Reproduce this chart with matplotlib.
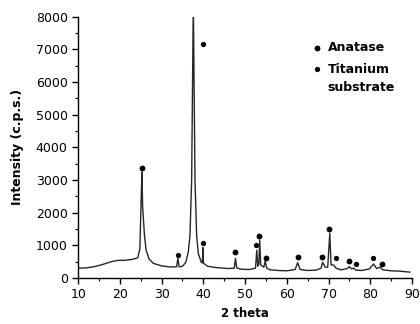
import matplotlib.pyplot as plt
from matplotlib.ticker import MultipleLocator

# XRD pattern (2 theta, intensity in c.p.s.)
two_theta = [10, 12, 14, 16, 18, 19.5, 21, 23, 24.3, 24.8, 25.1, 25.3, 25.45,
             25.6, 25.9, 26.3, 27, 28, 30, 32, 33.6, 33.9, 34.2, 35.0, 35.8,
             36.4, 36.8, 37.2, 37.6, 38.0, 38.4, 38.8, 39.5, 39.75, 39.9, 40.05,
             41, 43, 46, 47.4, 47.7, 48.0, 49, 51, 52.5, 52.8, 53.05, 53.3,
             53.5, 53.75, 54.5, 54.8, 55.2, 56, 58, 60, 62, 62.6, 63.2, 65, 67,
             68.2, 68.6, 69.2, 69.8, 70.3, 70.6, 71.2, 71.8, 73, 74.5, 75.0,
             75.5, 76.0, 76.6, 78, 79.8, 80.8, 81.5, 82.3, 83, 85, 87, 89.5]
intensity = [300, 310, 350, 420, 500, 540, 540, 570, 620, 900, 2400, 3250, 2200,
             1900, 1300, 850, 580, 450, 370, 340, 340, 600, 340, 360, 480,
             800, 1300, 3000, 8500, 3000, 1300, 750, 480, 460, 930, 450,
             360, 320, 290, 300, 600, 310, 270, 260, 300, 850, 360, 420,
             1160, 400, 330, 520, 300, 250, 230, 220, 260, 470, 260, 230, 240,
             300, 480, 330, 330, 1370, 400, 400, 300, 250, 290, 350,
             280, 300, 240, 230, 280, 430, 290, 330, 250, 220, 210, 180]

# peak markers (x, y)
anatase_x = [25.4, 47.7, 53.4, 55.0, 62.6, 68.5, 70.2, 74.8, 82.9]
anatase_y = [3370, 790, 1300, 620, 650, 650, 1500, 520, 420]
titanium_x = [33.9, 39.9, 39.9, 52.5, 71.8, 76.5, 80.7]
titanium_y = [700, 7180, 1070, 1000, 620, 440, 620]

fig = plt.figure(figsize=(4.2, 3.24), dpi=100)
ax = fig.add_axes([0.186, 0.142, 0.795, 0.806])

ax.plot(two_theta, intensity, color='#262626', lw=1.0)
ax.plot(anatase_x, anatase_y, 'o', color='black', ms=4.2, mew=0)
ax.plot(titanium_x, titanium_y, 'o', color='black', ms=3.8, mew=0)

ax.set_xlim(10, 90)
ax.set_ylim(0, 8000)
ax.xaxis.set_major_locator(MultipleLocator(10))
ax.xaxis.set_minor_locator(MultipleLocator(5))
ax.yaxis.set_major_locator(MultipleLocator(1000))
ax.yaxis.set_minor_locator(MultipleLocator(500))
ax.tick_params(which='major', direction='out', length=4, width=1, labelsize=9)
ax.tick_params(which='minor', direction='out', length=2, width=0.8)
for s in ['top', 'right']:
    ax.spines[s].set_visible(False)
for s in ['left', 'bottom']:
    ax.spines[s].set_linewidth(1)

ax.set_xlabel('2 theta', fontsize=8.5, fontweight='bold')
ax.set_ylabel('Intensity (c.p.s.)', fontsize=9, fontweight='bold')
ax.xaxis.set_label_coords(0.5, -0.112)
ax.yaxis.set_label_coords(-0.162, 0.5)

# legend drawn as text with dots
ax.plot([67.2], [7050], 'o', color='black', ms=4.2, mew=0)
ax.plot([67.2], [6400], 'o', color='black', ms=3.8, mew=0)
ax.text(69.8, 7050, 'Anatase', fontsize=9, fontweight='bold', va='center')
ax.text(69.8, 6400, 'Titanium', fontsize=9, fontweight='bold', va='center')
ax.text(69.8, 5850, 'substrate', fontsize=9, fontweight='bold', va='center')

fig.savefig('out.png', dpi=100)
